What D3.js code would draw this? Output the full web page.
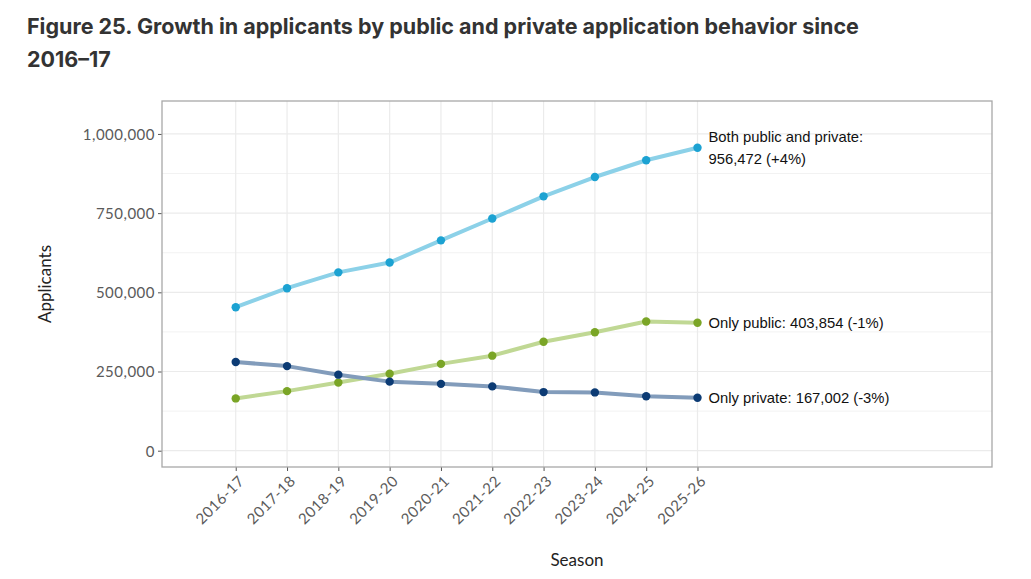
<!DOCTYPE html>
<html>
<head>
<meta charset="utf-8">
<script src="https://cdn.jsdelivr.net/npm/d3@7"></script>
<style>
  body { margin: 0; background: #fff; }
  .title { font-family: Inter, "Open Sans", sans-serif; font-weight: 700; font-size: 21.5px; fill: #333; }
  .axis text { font-family: Lato, sans-serif; font-size: 15px; fill: #5a5a5a; letter-spacing: 0.5px; }
  .axis-title { font-family: Lato, sans-serif; font-size: 17px; fill: #222; }
  .end-label { font-family: "Liberation Sans", Arial, sans-serif; font-size: 14.8px; fill: #111; }
</style>
</head>
<body>
<svg class="chart"></svg>
<script>
const seasons = ["2016-17", "2017-18", "2018-19", "2019-20", "2020-21",
  "2021-22", "2022-23", "2023-24", "2024-25", "2025-26"]

const bothValues = [453000, 513000, 563000, 594000, 664000, 733000, 803000, 864000, 917000, 956472]
const publicValues = [165000, 188000, 215000, 243000, 274000, 300000, 344000, 374000, 408000, 403854]
const privateValues = [280000, 267000, 240000, 218000, 211000, 203000, 185000, 184000, 172000, 167002]

const endLabels = [
  ["Both public and private:", "956,472 (+4%)"],
  ["Only public: 403,854 (-1%)"],
  ["Only private: 167,002 (-3%)"]
]

const yTicks = [0, 250000, 500000, 750000, 1000000]
const yMinorTicks = [125000, 375000, 625000, 875000]

const colors = {
  both: { line: "#8cd1e8", point: "#1ca2d2" },
  public: { line: "#c0d894", point: "#7aa526" },
  private: { line: "#829cbb", point: "#0c3b74" },
  grid: "#ebebeb",
  border: "#a8a8a8"
}

const width = 1031
const height = 579
const panel = { left: 162, right: 992, top: 101, bottom: 467 }

const series = [
  { name: "both", values: bothValues },
  { name: "public", values: publicValues },
  { name: "private", values: privateValues }
]

const svg = d3.select(".chart")
    .attr("width", width)
    .attr("height", height)

// x is positional on the season index; the panel runs well past the last season for labels
const xScale = d3.scaleLinear()
  .domain([-1.437, 14.74])
  .range([panel.left, panel.right])

const yScale = d3.scaleLinear()
  .domain([-51500, 1104000])
  .range([panel.bottom, panel.top])

const lineGenerator = d3.line()
  .x((d, i) => xScale(i))
  .y(d => yScale(d))

// title
svg.append("text")
    .attr("class", "title")
    .attr("x", 27)
    .attr("y", 34)
    .text("Figure 25. Growth in applicants by public and private application behavior since")
svg.append("text")
    .attr("class", "title")
    .attr("x", 27)
    .attr("y", 67)
    .text("2016–17")

// grid
const grid = svg.append("g")
grid.selectAll(".minor")
  .data(yMinorTicks)
  .join("line")
    .attr("x1", panel.left).attr("x2", panel.right)
    .attr("y1", d => yScale(d)).attr("y2", d => yScale(d))
    .attr("stroke", "#f2f2f2")
    .attr("stroke-width", 1)
grid.selectAll(".major-y")
  .data(yTicks)
  .join("line")
    .attr("x1", panel.left).attr("x2", panel.right)
    .attr("y1", d => yScale(d)).attr("y2", d => yScale(d))
    .attr("stroke", colors.grid)
    .attr("stroke-width", 1.2)
grid.selectAll(".major-x")
  .data(seasons)
  .join("line")
    .attr("x1", (d, i) => xScale(i)).attr("x2", (d, i) => xScale(i))
    .attr("y1", panel.top).attr("y2", panel.bottom)
    .attr("stroke", colors.grid)
    .attr("stroke-width", 1.2)

// axes
const yAxis = svg.append("g")
    .attr("class", "axis")
    .attr("transform", `translate(${panel.left},0)`)
    .call(d3.axisLeft(yScale)
      .tickValues(yTicks)
      .tickFormat(d3.format(","))
      .tickSize(4)
      .tickPadding(3))
    .call(g => g.select(".domain").remove())
    .call(g => g.selectAll(".tick line").attr("stroke", "#555"))
    .call(g => g.selectAll(".tick text").attr("dy", "0.36em"))

const xAxis = svg.append("g")
    .attr("class", "axis")
    .attr("transform", `translate(0,${panel.bottom})`)
    .call(d3.axisBottom(xScale)
      .tickValues(d3.range(seasons.length))
      .tickFormat(i => seasons[i])
      .tickSize(4))
    .call(g => g.select(".domain").remove())
    .call(g => g.selectAll(".tick line").attr("stroke", "#555"))
    .call(g => g.selectAll(".tick text")
        .attr("text-anchor", "end")
        .attr("dy", null)
        .attr("y", 0)
        .attr("transform", "translate(9,15) rotate(-45)"))

// panel border
svg.append("rect")
    .attr("x", panel.left)
    .attr("y", panel.top)
    .attr("width", panel.right - panel.left)
    .attr("height", panel.bottom - panel.top)
    .attr("fill", "none")
    .attr("stroke", colors.border)
    .attr("stroke-width", 1.3)

// axis titles
svg.append("text")
    .attr("class", "axis-title")
    .attr("text-anchor", "middle")
    .attr("transform", `translate(51,${(panel.top + panel.bottom) / 2}) rotate(-90)`)
    .text("Applicants")
svg.append("text")
    .attr("class", "axis-title")
    .attr("text-anchor", "middle")
    .attr("x", 577)
    .attr("y", 566)
    .text("Season")

// lines and points
const lines = svg.append("g")
lines.selectAll(".series-line")
  .data(series)
  .join("path")
    .attr("class", "series-line")
    .attr("d", d => lineGenerator(d.values))
    .attr("fill", "none")
    .attr("stroke", d => colors[d.name].line)
    .attr("stroke-width", 4)
    .attr("stroke-linejoin", "round")
    .attr("stroke-linecap", "round")

series.forEach(s => {
  lines.selectAll(`.pt-${s.name}`)
    .data(s.values)
    .join("circle")
      .attr("class", `pt-${s.name}`)
      .attr("cx", (d, i) => xScale(i))
      .attr("cy", d => yScale(d))
      .attr("r", 4.2)
      .attr("fill", colors[s.name].point)
})

// end labels
const last = seasons.length - 1
const labels = svg.append("g")
series.forEach((s, k) => {
  const lbl = endLabels[k]
  const yEnd = yScale(s.values[last])
  const t = labels.append("text")
      .attr("class", "end-label")
      .attr("x", xScale(last) + 11)
      .attr("y", lbl.length > 1 ? yEnd - 6 : yEnd + 5)
  lbl.forEach((line, j) => {
    t.append("tspan")
        .attr("x", xScale(last) + 11)
        .attr("dy", j === 0 ? 0 : 22)
        .text(line)
  })
})
</script>
</body>
</html>
